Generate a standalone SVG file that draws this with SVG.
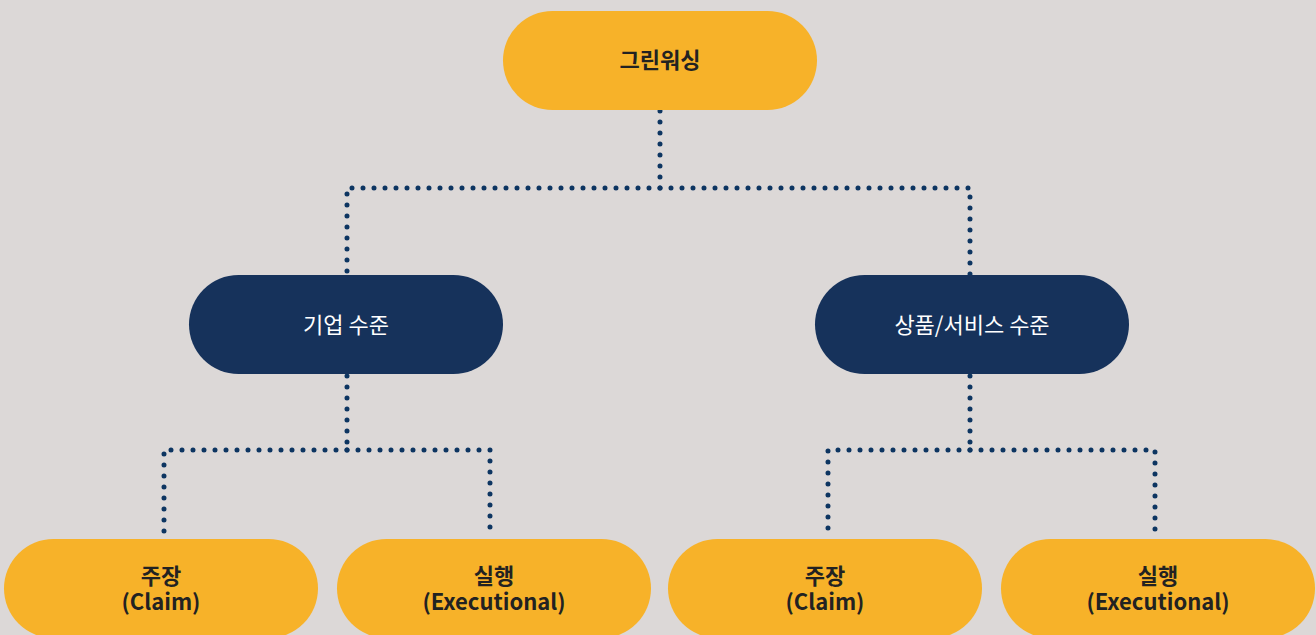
<svg xmlns="http://www.w3.org/2000/svg" width="1316" height="635" viewBox="0 0 1316 635">
<style>
.y{fill:#f7b229}
.n{fill:#16325b}
.tb{font-family:"Noto Sans CJK KR","Noto Sans",sans-serif;font-weight:bold;font-size:22px;fill:#222;text-anchor:middle}
.tw{font-family:"Noto Sans CJK KR","Noto Sans",sans-serif;font-size:22px;fill:#fff;text-anchor:middle}
.c{fill:none;stroke:#0d3561;stroke-width:5;stroke-linecap:round;stroke-dasharray:0 11}
</style>
<rect width="1316" height="635" fill="#dcd8d7"/>
<g id="connectors">
<path class="c" d="M660 111V188"/>
<path class="c" d="M660 188H347V275"/>
<path class="c" d="M660 188H970V275"/>
<path class="c" d="M347 376V450"/>
<path class="c" d="M347 450H164V538"/>
<path class="c" d="M347 450H490V538"/>
<path class="c" d="M970 376V450"/>
<path class="c" d="M970 450H828V538"/>
<path class="c" d="M970 450H1155V538"/>
</g>
<g id="n0"><rect class="y" x="503" y="11" width="314" height="99" rx="49.5"/><text class="tb" x="660" y="68">그린워싱</text></g>
<g id="n1"><rect class="n" x="189" y="275" width="314" height="99" rx="49.5"/><text class="tw" x="346" y="333">기업 수준</text></g>
<g id="n2"><rect class="n" x="815" y="275" width="314" height="99" rx="49.5"/><text class="tw" x="972" y="333">상품/서비스 수준</text></g>
<g id="n3"><rect class="y" x="4" y="539" width="314" height="99" rx="49.5"/><text class="tb" x="161" y="584">주장</text><text class="tb" x="161" y="610">(Claim)</text></g>
<g id="n4"><rect class="y" x="337" y="539" width="314" height="99" rx="49.5"/><text class="tb" x="494" y="584">실행</text><text class="tb" x="494" y="610">(Executional)</text></g>
<g id="n5"><rect class="y" x="668" y="539" width="314" height="99" rx="49.5"/><text class="tb" x="825" y="584">주장</text><text class="tb" x="825" y="610">(Claim)</text></g>
<g id="n6"><rect class="y" x="1001" y="539" width="314" height="99" rx="49.5"/><text class="tb" x="1158" y="584">실행</text><text class="tb" x="1158" y="610">(Executional)</text></g>
</svg>
